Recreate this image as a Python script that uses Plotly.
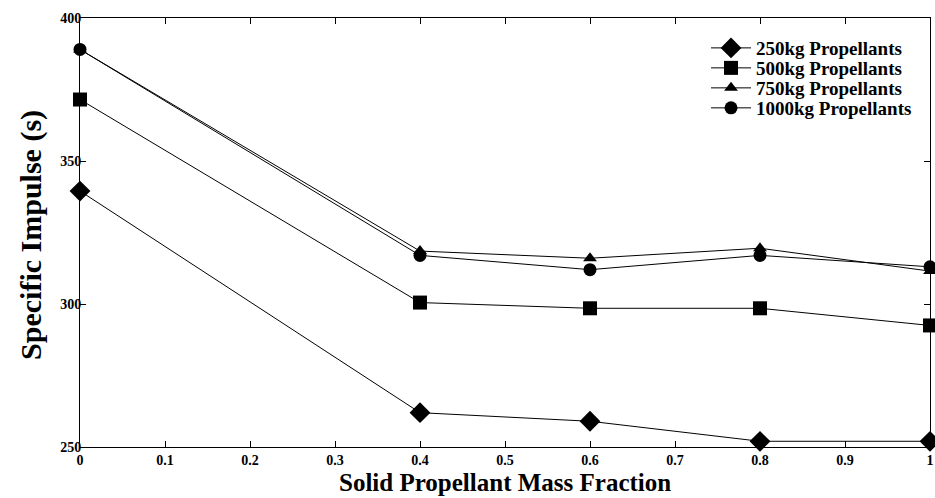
import plotly.graph_objects as go

mass_fraction = [0, 0.4, 0.6, 0.8, 1.0]
isp_250 = [339.5, 262.0, 259.0, 252.0, 252.0]
isp_500 = [371.5, 300.5, 298.5, 298.5, 292.5]
isp_750 = [389.0, 318.5, 316.0, 319.5, 311.5]
isp_1000 = [389.0, 317.0, 312.0, 317.0, 313.0]
series_names = ["250kg Propellants", "500kg Propellants", "750kg Propellants", "1000kg Propellants"]
x_ticks = [0, 0.1, 0.2, 0.3, 0.4, 0.5, 0.6, 0.7, 0.8, 0.9, 1]
x_tick_labels = ["0", "0.1", "0.2", "0.3", "0.4", "0.5", "0.6", "0.7", "0.8", "0.9", "1"]
y_ticks = [250, 300, 350, 400]
x_title = "Solid Propellant Mass Fraction"
y_title = "Specific Impulse (s)"

FONT = "Liberation Serif"
symbols = ["diamond", "square", "triangle-up", "circle"]
sizes = [16, 14, 12, 13]
data = [isp_250, isp_500, isp_750, isp_1000]
legend_ids = ["legend", "legend2", "legend3", "legend4"]
legend_y = [0.930, 0.8834, 0.8368, 0.7902]

fig = go.Figure()
for name, ys, sym, sz, lg in zip(series_names, data, symbols, sizes, legend_ids):
    fig.add_trace(go.Scatter(
        x=mass_fraction, y=ys, name=name, mode="lines+markers",
        line=dict(color="black", width=1),
        marker=dict(symbol=sym, size=sz, color="black"),
        cliponaxis=False, legend=lg,
    ))

axis_common = dict(
    showline=True, linecolor="black", linewidth=1, mirror="allticks",
    ticks="inside", ticklen=6, tickcolor="black", tickwidth=1,
    showgrid=False, zeroline=False, ticklabeloverflow="allow",
    tickfont=dict(family=FONT, size=14, color="black", weight="bold"),
)

legend_style = dict(x=0.7365, xanchor="left", yanchor="middle",
                    bgcolor="rgba(0,0,0,0)", borderwidth=0,
                    font=dict(family=FONT, size=19, color="black", weight="bold"),
                    itemwidth=40)

fig.update_layout(
    width=935, height=498,
    margin=dict(l=80, r=1, t=18, b=51),
    paper_bgcolor="white", plot_bgcolor="white",
    font=dict(family=FONT, color="black"),
    xaxis=dict(range=[0, 1], tickvals=x_ticks, ticktext=x_tick_labels, **axis_common),
    yaxis=dict(range=[250, 400], tickvals=y_ticks, ticklabelstandoff=-5, **axis_common),
    legend=dict(y=legend_y[0], **legend_style),
    legend2=dict(y=legend_y[1], **legend_style),
    legend3=dict(y=legend_y[2], **legend_style),
    legend4=dict(y=legend_y[3], **legend_style),
    showlegend=True,
    annotations=[
        dict(text=f"<b>{x_title}</b>", xref="paper", yref="paper", x=0.5, y=-0.083,
             xanchor="center", yanchor="middle", showarrow=False,
             font=dict(family=FONT, size=25, color="black")),
        dict(text=f"<b>{y_title}</b>", xref="paper", yref="paper", x=-0.0585, y=0.495,
             xanchor="center", yanchor="middle", textangle=-90, showarrow=False,
             font=dict(family=FONT, size=30, color="black")),
    ],
)

fig.write_html("out.html", config={"displayModeBar": False},
               post_script="document.body.style.margin='0';")
